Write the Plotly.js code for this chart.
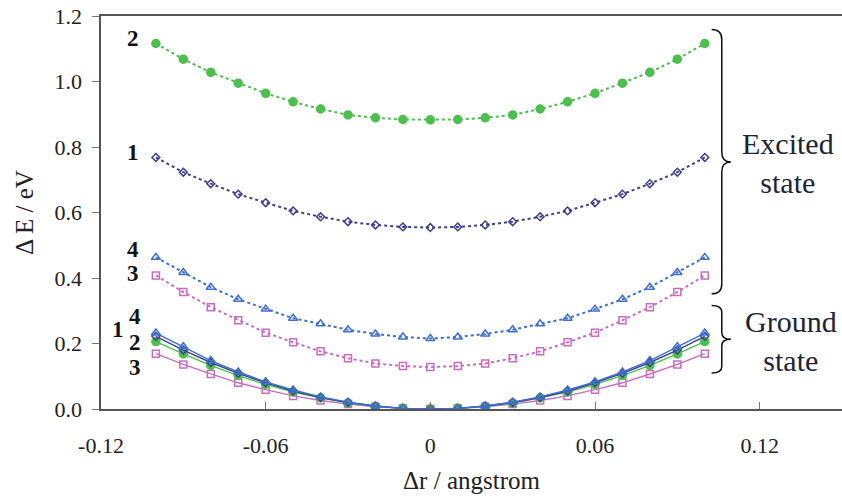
<!DOCTYPE html>
<html>
<head>
<meta charset="utf-8">
<script src="https://cdn.plot.ly/plotly-3.0.1.min.js"></script>
<style>
html,body{margin:0;padding:0;background:#fff;}
</style>
</head>
<body>
<div id="chart" style="width:842px;height:500px;"></div>
<script>
// displacement (angstrom)
const dr = [-0.10,-0.09,-0.08,-0.07,-0.06,-0.05,-0.04,-0.03,-0.02,-0.01,0,
             0.01,0.02,0.03,0.04,0.05,0.06,0.07,0.08,0.09,0.10];

// Excited state energies (eV)
const excited2 = [1.116,1.068,1.028,0.995,0.964,0.938,0.916,0.898,0.889,0.884,0.883,
                  0.884,0.889,0.898,0.916,0.938,0.964,0.995,1.028,1.068,1.116];
const excited1 = [0.768,0.723,0.688,0.656,0.630,0.605,0.587,0.572,0.562,0.556,0.554,
                  0.556,0.562,0.572,0.587,0.605,0.630,0.656,0.688,0.723,0.768];
const excited4 = [0.463,0.417,0.372,0.335,0.305,0.277,0.260,0.242,0.229,0.220,0.215,
                  0.220,0.229,0.242,0.260,0.277,0.305,0.335,0.372,0.417,0.463];
const excited3 = [0.408,0.357,0.311,0.271,0.233,0.204,0.176,0.155,0.139,0.131,0.128,
                  0.131,0.139,0.155,0.176,0.204,0.233,0.271,0.311,0.357,0.408];

// Ground state energies (eV)
const ground4 = [0.232,0.190,0.148,0.113,0.083,0.058,0.037,0.021,0.009,0.002,0.000,
                 0.002,0.009,0.021,0.037,0.058,0.083,0.113,0.148,0.190,0.232];
const ground1 = [0.222,0.180,0.142,0.109,0.080,0.055,0.035,0.020,0.009,0.002,0.000,
                 0.002,0.009,0.020,0.035,0.055,0.080,0.109,0.142,0.180,0.222];
const ground2 = [0.206,0.168,0.133,0.102,0.075,0.052,0.034,0.018,0.008,0.002,0.000,
                 0.002,0.008,0.018,0.034,0.052,0.075,0.102,0.133,0.168,0.206];
const ground3 = [0.169,0.136,0.107,0.080,0.059,0.040,0.026,0.015,0.007,0.002,0.000,
                 0.002,0.007,0.015,0.026,0.040,0.059,0.080,0.107,0.136,0.169];

const xTickVals = [-0.12,-0.06,0,0.06,0.12];
const xTickText = ['-0.12','-0.06','0','0.06','0.12'];

const GREEN = '#4dbf4d', NAVY = '#3f3f8f', BLUE = '#3f6fcf', PINK = '#cc6cc0';
const F = 'Times New Roman';

function tr(y, color, symbol, size, dash, width){
  return {x: dr, y: y, type:'scatter', mode:'lines+markers',
    line:{color:color, width:width, dash:dash},
    marker:{color:color, symbol:symbol, size:size, line:{color:color, width:1.5}},
    showlegend:false, hoverinfo:'skip'};
}

const traces = [
  tr(ground3, PINK, 'square-open', 7, 'solid', 1.4),
  tr(ground2, GREEN, 'circle', 8, 'solid', 1.4),
  tr(ground1, NAVY, 'diamond-open', 6, 'solid', 1.4),
  tr(ground4, BLUE, 'triangle-up-open', 8, 'solid', 1.4),
  tr(excited3, PINK, 'square-open', 7, 'dot', 2),
  tr(excited4, BLUE, 'triangle-up-open', 8, 'dot', 2),
  tr(excited1, NAVY, 'diamond-open', 6, 'dot', 2),
  tr(excited2, GREEN, 'circle', 8, 'dot', 2)
];

function brace(x0, x1, x2, yTop, yBot, yMid, d){
  return 'M' + x0 + ',' + yTop +
    ' Q' + x1 + ',' + yTop + ' ' + x1 + ',' + (yTop - d) +
    ' L' + x1 + ',' + (yMid + d) +
    ' Q' + x1 + ',' + yMid + ' ' + x2 + ',' + yMid +
    ' Q' + x1 + ',' + yMid + ' ' + x1 + ',' + (yMid - d) +
    ' L' + x1 + ',' + (yBot + d) +
    ' Q' + x1 + ',' + yBot + ' ' + x0 + ',' + yBot;
}

function lab(text, x, y){
  return {text:'<b>'+text+'</b>', x:x, y:y, xref:'x', yref:'y', showarrow:false,
    font:{family:F, size:23, color:'#111'}, xanchor:'center', yanchor:'middle'};
}

const lay = {
  width:842, height:500,
  margin:{l:101, r:0, t:16, b:91},
  paper_bgcolor:'#fff', plot_bgcolor:'#fff',
  font:{family:F},
  xaxis:{
    range:[-0.12, 0.15], tickvals:xTickVals, ticktext:xTickText,
    showgrid:false, zeroline:false, showline:true, mirror:true,
    linecolor:'#555', linewidth:1.6, ticks:'inside', ticklen:7, tickcolor:'#777', tickwidth:1,
    tickfont:{family:F, size:22, color:'#222'}, ticklabelstandoff:16,
    title:{text:'Δr / angstrom', font:{family:F, size:25, color:'#222'}, standoff:14},
    automargin:false
  },
  yaxis:{
    range:[0, 1.2], dtick:0.2, tickformat:'.1f',
    showgrid:false, zeroline:false, showline:true,
    linecolor:'#555', linewidth:1.6, ticks:'outside', ticklen:7, tickcolor:'#777', tickwidth:1,
    tickfont:{family:F, size:22, color:'#222'}, ticklabelstandoff:6,
    title:{text:'Δ E / eV', font:{family:F, size:25, color:'#222'}, standoff:14},
    automargin:false
  },
  shapes:[
    {type:'path', xref:'x', yref:'y', path: brace(0.1025, 0.1062, 0.1095, 1.159, 0.352, 0.754, 0.03),
     line:{color:'#111', width:1.5}},
    {type:'path', xref:'x', yref:'y', path: brace(0.1025, 0.1062, 0.1095, 0.316, 0.110, 0.213, 0.02),
     line:{color:'#111', width:1.5}}
  ],
  annotations:[
    lab('2', -0.1083, 1.132),
    lab('1', -0.1083, 0.784),
    lab('4', -0.1083, 0.488),
    lab('3', -0.1083, 0.414),
    lab('4', -0.1076, 0.282),
    lab('1', -0.1138, 0.242),
    lab('2', -0.1076, 0.202),
    lab('3', -0.1076, 0.126),
    {text:'Excited<br>state', x:0.1305, y:0.75, xref:'x', yref:'y', showarrow:false,
     font:{family:F, size:30, color:'#1a2535'}, xanchor:'center', yanchor:'middle', align:'center'},
    {text:'Ground<br>state', x:0.1315, y:0.208, xref:'x', yref:'y', showarrow:false,
     font:{family:F, size:30, color:'#1a2535'}, xanchor:'center', yanchor:'middle', align:'center'}
  ]
};

Plotly.newPlot('chart', traces, lay, {staticPlot:true}).then(function(gd){
  gd.querySelectorAll('text').forEach(function(t){
    t.setAttribute('font-family', 'Liberation Serif');
    t.style.setProperty('font-family', "'Liberation Serif', 'Times New Roman', serif", 'important');
  });
});
</script>
</body>
</html>
